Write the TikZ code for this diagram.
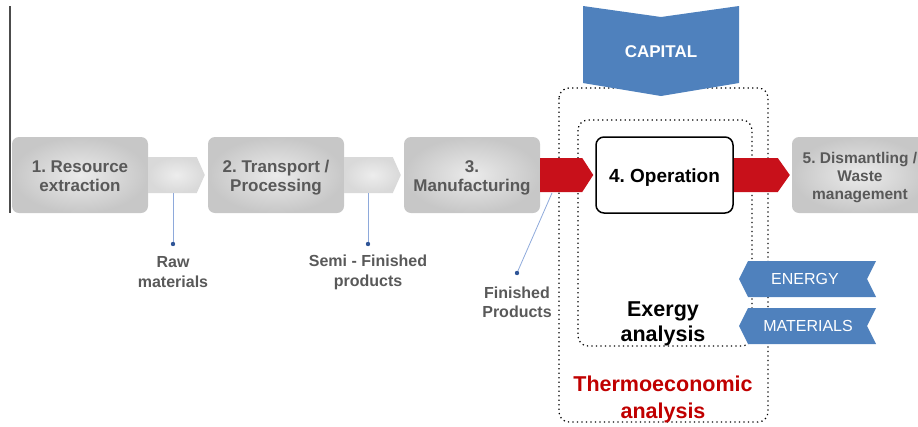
\documentclass[tikz,border=0pt]{standalone}
\usepackage{fontspec}
\setmainfont{Liberation Sans}
\frenchspacing
\usetikzlibrary{calc}
\definecolor{txtgray}{HTML}{595959}
\definecolor{capblue}{HTML}{4F81BD}
\definecolor{flowred}{HTML}{C8101A}
\definecolor{thermored}{HTML}{C00000}
\definecolor{leadblue}{HTML}{8EA9DB}
\definecolor{dotblue}{HTML}{2F5597}
\newcommand{\lowered}[1]{\raisebox{-3pt}[\height][\depth]{#1}}
\tikzset{
  stagebox/.style={rounded corners=7pt, minimum width=136pt, minimum height=76pt,
    inner color=black!8, outer color=black!22, align=center, text=txtgray,
    font=\bfseries\fontsize{17}{19.5}\selectfont},
  opbox/.style={rounded corners=8pt, minimum width=137pt, minimum height=76pt,
    draw=black, line width=1.5pt, fill=white, align=center,
    font=\bfseries\fontsize{19}{22}\selectfont},
  graychev/.style={inner color=black!7, outer color=black!15},
  redchev/.style={fill=flowred},
  flag/.style={fill=capblue},
  flagtext/.style={text=white, font=\fontsize{16}{19}\selectfont},
  lbl/.style={align=center, text=txtgray, font=\bfseries\fontsize{16}{20}\selectfont},
  leader/.style={draw=leadblue, line width=0.8pt},
  leaddot/.style={fill=dotblue},
  boundary/.style={draw=black, line width=1.2pt, dash pattern=on 1.3pt off 3.2pt, rounded corners=10pt},
}
\begin{document}
\begin{tikzpicture}[x=1pt,y=-1pt]
\useasboundingbox (0,0) rectangle (918,426);

% left vertical rule
\draw[black!70, line width=1.8pt] (10,6) -- (10,213);

% analysis boundaries
\draw[boundary] (559,88) rectangle (768,422);
\draw[boundary] (578,120) rectangle (752,346);

% stages
\node[stagebox] (s1) at (80,175) {\lowered{\begin{tabular}{@{}c@{}}1. Resource\\[-1pt]extraction\end{tabular}}};
\node[stagebox] (s2) at (276,175) {\lowered{\begin{tabular}{@{}c@{}}2. Transport /\\[-1pt]Processing\end{tabular}}};
\node[stagebox] (s3) at (472,175) {\lowered{\begin{tabular}{@{}c@{}}3.\\[-1pt]Manufacturing\end{tabular}}};
\node[opbox] (s4) at (664.5,175) {\lowered{4. Operation}};
\node[stagebox, font=\bfseries\fontsize{15.5}{19}\selectfont] (s5) at (860,175) {\lowered{\begin{tabular}{@{}c@{}}5. Dismantling /\\[-1pt]Waste\\[-1pt]management\end{tabular}}};

% gray chevrons
\shade[graychev] ($(s1.east)+(0,-18)$) -- ($(s2.west)+(-11,-18)$) -- ($(s2.west)+(-3,0)$)
  -- ($(s2.west)+(-11,18)$) -- ($(s1.east)+(0,18)$) -- cycle;
\shade[graychev] ($(s2.east)+(0,-18)$) -- ($(s3.west)+(-11,-18)$) -- ($(s3.west)+(-3,0)$)
  -- ($(s3.west)+(-11,18)$) -- ($(s2.east)+(0,18)$) -- cycle;

% red chevrons
\fill[redchev] ($(s3.east)+(0,-17)$) -- ($(s4.west)+(-13,-17)$) -- ($(s4.west)+(-2,0)$)
  -- ($(s4.west)+(-13,17)$) -- ($(s3.east)+(0,17)$) -- cycle;
\fill[redchev] ($(s4.east)+(0,-17)$) -- ($(s5.west)+(-14,-17)$) -- ($(s5.west)+(-2,0)$)
  -- ($(s5.west)+(-14,17)$) -- ($(s4.east)+(0,17)$) -- cycle;

% capital
\fill[flag] (583,6) -- (661,17) -- (739,6) -- (739,83) -- (661,96) -- (583,83) -- cycle;
\node[text=white, font=\bfseries\fontsize{17}{20}\selectfont] (cap) at (661,52) {CAPITAL};

% energy / materials
\fill[flag] (739,279) -- (748,261) -- (876,261) -- (867,279) -- (876,297) -- (748,297) -- cycle;
\node[flagtext] (en) at (805,279) {ENERGY};
\fill[flag] (739,326) -- (748,308) -- (876,308) -- (867,326) -- (876,344) -- (748,344) -- cycle;
\node[flagtext] (mat) at (808,326) {MATERIALS};

% labels with leaders
\coordinate (rmtop) at (173,193);
\coordinate (rmdot) at (173,244);
\coordinate (sftop) at (368,193);
\coordinate (sfdot) at (368,244);
\coordinate (fptop) at (552,193);
\coordinate (fpdot) at (517,273);
\draw[leader] (rmtop) -- (rmdot);
\draw[leader] (sftop) -- (sfdot);
\draw[leader] (fptop) -- (fpdot);
\fill[leaddot] (rmdot) circle (2.2);
\fill[leaddot] (sfdot) circle (2.2);
\fill[leaddot] (fpdot) circle (2.2);
\node[lbl] (rm) at (173,272) {Raw\\materials};
\node[lbl] (sf) at (368,272) {Semi - Finished\\products};
\node[lbl, font=\bfseries\fontsize{16}{19}\selectfont] (fp) at (517,302) {Finished\\Products};

% analysis titles
\node[align=center, font=\bfseries\fontsize{21.5}{25}\selectfont] (ex) at (663,324) {Exergy\\analysis};
\node[align=center, text=thermored, font=\bfseries\fontsize{21.5}{27}\selectfont] (th) at (663,399) {Thermoeconomic\\analysis};
\end{tikzpicture}
\end{document}
